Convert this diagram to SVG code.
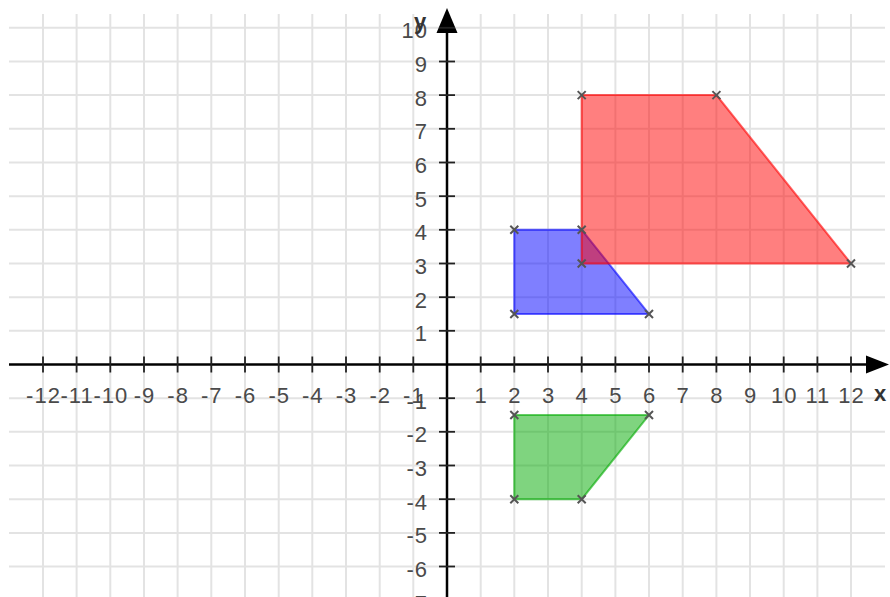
<svg xmlns="http://www.w3.org/2000/svg" xmlns:xlink="http://www.w3.org/1999/xlink" width="890" height="597" viewBox="0 0 890 597">
<style>
.grid line{stroke:#e3e3e3;stroke-width:2}
.axis{stroke:#000;stroke-width:2.5}
.tick{stroke:#222;stroke-width:1.8}
.lbl{font-family:"Liberation Sans",Arial,sans-serif;font-size:22px;letter-spacing:1px;fill:#4a4a4a}
.xl{text-anchor:middle}
.yl{text-anchor:end}
.axname{font-family:"Liberation Sans",Arial,sans-serif;font-size:22px;font-weight:bold;fill:#333}
.vx{stroke:#555;stroke-width:2;fill:none}
</style>
<defs>
<path id="vx" d="M-4,-4 L4,4 M-4,4 L4,-4"/>
</defs>
<rect width="890" height="597" fill="#fff"/>
<g id="grid" class="grid">
<line x1="9" y1="27.8" x2="885" y2="27.8"/>
<line x1="9" y1="61.5" x2="885" y2="61.5"/>
<line x1="9" y1="95.1" x2="885" y2="95.1"/>
<line x1="9" y1="128.8" x2="885" y2="128.8"/>
<line x1="9" y1="162.5" x2="885" y2="162.5"/>
<line x1="9" y1="196.2" x2="885" y2="196.2"/>
<line x1="9" y1="229.8" x2="885" y2="229.8"/>
<line x1="9" y1="263.5" x2="885" y2="263.5"/>
<line x1="9" y1="297.2" x2="885" y2="297.2"/>
<line x1="9" y1="330.8" x2="885" y2="330.8"/>
<line x1="9" y1="398.2" x2="885" y2="398.2"/>
<line x1="9" y1="431.8" x2="885" y2="431.8"/>
<line x1="9" y1="465.5" x2="885" y2="465.5"/>
<line x1="9" y1="499.2" x2="885" y2="499.2"/>
<line x1="9" y1="532.9" x2="885" y2="532.9"/>
<line x1="9" y1="566.5" x2="885" y2="566.5"/>
<line x1="43" y1="14" x2="43" y2="597"/>
<line x1="76.6" y1="14" x2="76.6" y2="597"/>
<line x1="110.3" y1="14" x2="110.3" y2="597"/>
<line x1="144" y1="14" x2="144" y2="597"/>
<line x1="177.6" y1="14" x2="177.6" y2="597"/>
<line x1="211.3" y1="14" x2="211.3" y2="597"/>
<line x1="245" y1="14" x2="245" y2="597"/>
<line x1="278.7" y1="14" x2="278.7" y2="597"/>
<line x1="312.3" y1="14" x2="312.3" y2="597"/>
<line x1="346" y1="14" x2="346" y2="597"/>
<line x1="379.7" y1="14" x2="379.7" y2="597"/>
<line x1="413.3" y1="14" x2="413.3" y2="597"/>
<line x1="480.7" y1="14" x2="480.7" y2="597"/>
<line x1="514.3" y1="14" x2="514.3" y2="597"/>
<line x1="548" y1="14" x2="548" y2="597"/>
<line x1="581.7" y1="14" x2="581.7" y2="597"/>
<line x1="615.4" y1="14" x2="615.4" y2="597"/>
<line x1="649" y1="14" x2="649" y2="597"/>
<line x1="682.7" y1="14" x2="682.7" y2="597"/>
<line x1="716.4" y1="14" x2="716.4" y2="597"/>
<line x1="750" y1="14" x2="750" y2="597"/>
<line x1="783.7" y1="14" x2="783.7" y2="597"/>
<line x1="817.4" y1="14" x2="817.4" y2="597"/>
<line x1="851" y1="14" x2="851" y2="597"/>
</g>
<g id="axes">
<line class="axis" x1="9" y1="364.5" x2="868" y2="364.5"/>
<polygon points="889,364.5 866,355.5 866,373.5" fill="#000"/>
<line class="axis" x1="447" y1="31" x2="447" y2="597"/>
<polygon points="447,8 436.5,33 457.5,33" fill="#000"/>
<g class="tick">
<line x1="43" y1="356.5" x2="43" y2="372.5"/>
<line x1="76.6" y1="356.5" x2="76.6" y2="372.5"/>
<line x1="110.3" y1="356.5" x2="110.3" y2="372.5"/>
<line x1="144" y1="356.5" x2="144" y2="372.5"/>
<line x1="177.6" y1="356.5" x2="177.6" y2="372.5"/>
<line x1="211.3" y1="356.5" x2="211.3" y2="372.5"/>
<line x1="245" y1="356.5" x2="245" y2="372.5"/>
<line x1="278.7" y1="356.5" x2="278.7" y2="372.5"/>
<line x1="312.3" y1="356.5" x2="312.3" y2="372.5"/>
<line x1="346" y1="356.5" x2="346" y2="372.5"/>
<line x1="379.7" y1="356.5" x2="379.7" y2="372.5"/>
<line x1="413.3" y1="356.5" x2="413.3" y2="372.5"/>
<line x1="480.7" y1="356.5" x2="480.7" y2="372.5"/>
<line x1="514.3" y1="356.5" x2="514.3" y2="372.5"/>
<line x1="548" y1="356.5" x2="548" y2="372.5"/>
<line x1="581.7" y1="356.5" x2="581.7" y2="372.5"/>
<line x1="615.4" y1="356.5" x2="615.4" y2="372.5"/>
<line x1="649" y1="356.5" x2="649" y2="372.5"/>
<line x1="682.7" y1="356.5" x2="682.7" y2="372.5"/>
<line x1="716.4" y1="356.5" x2="716.4" y2="372.5"/>
<line x1="750" y1="356.5" x2="750" y2="372.5"/>
<line x1="783.7" y1="356.5" x2="783.7" y2="372.5"/>
<line x1="817.4" y1="356.5" x2="817.4" y2="372.5"/>
<line x1="851" y1="356.5" x2="851" y2="372.5"/>
<line x1="439" y1="27.8" x2="455" y2="27.8"/>
<line x1="439" y1="61.5" x2="455" y2="61.5"/>
<line x1="439" y1="95.1" x2="455" y2="95.1"/>
<line x1="439" y1="128.8" x2="455" y2="128.8"/>
<line x1="439" y1="162.5" x2="455" y2="162.5"/>
<line x1="439" y1="196.2" x2="455" y2="196.2"/>
<line x1="439" y1="229.8" x2="455" y2="229.8"/>
<line x1="439" y1="263.5" x2="455" y2="263.5"/>
<line x1="439" y1="297.2" x2="455" y2="297.2"/>
<line x1="439" y1="330.8" x2="455" y2="330.8"/>
<line x1="439" y1="398.2" x2="455" y2="398.2"/>
<line x1="439" y1="431.8" x2="455" y2="431.8"/>
<line x1="439" y1="465.5" x2="455" y2="465.5"/>
<line x1="439" y1="499.2" x2="455" y2="499.2"/>
<line x1="439" y1="532.9" x2="455" y2="532.9"/>
<line x1="439" y1="566.5" x2="455" y2="566.5"/>
</g>
</g>
<g id="x-labels" class="lbl xl">
<text x="43.5" y="403">-12</text>
<text x="77.1" y="403">-11</text>
<text x="110.8" y="403">-10</text>
<text x="144.5" y="403">-9</text>
<text x="178.1" y="403">-8</text>
<text x="211.8" y="403">-7</text>
<text x="245.5" y="403">-6</text>
<text x="279.2" y="403">-5</text>
<text x="312.8" y="403">-4</text>
<text x="346.5" y="403">-3</text>
<text x="380.2" y="403">-2</text>
<text x="413.8" y="403">-1</text>
<text x="481.2" y="403">1</text>
<text x="514.8" y="403">2</text>
<text x="548.5" y="403">3</text>
<text x="582.2" y="403">4</text>
<text x="615.9" y="403">5</text>
<text x="649.5" y="403">6</text>
<text x="683.2" y="403">7</text>
<text x="716.9" y="403">8</text>
<text x="750.5" y="403">9</text>
<text x="784.2" y="403">10</text>
<text x="817.9" y="403">11</text>
<text x="851.5" y="403">12</text>
</g>
<g id="y-labels" class="lbl yl">
<text x="428" y="38.3">10</text>
<text x="428" y="72">9</text>
<text x="428" y="105.6">8</text>
<text x="428" y="139.3">7</text>
<text x="428" y="173">6</text>
<text x="428" y="206.7">5</text>
<text x="428" y="240.3">4</text>
<text x="428" y="274">3</text>
<text x="428" y="307.7">2</text>
<text x="428" y="341.3">1</text>
<text x="428" y="408.7">-1</text>
<text x="428" y="442.3">-2</text>
<text x="428" y="476">-3</text>
<text x="428" y="509.7">-4</text>
<text x="428" y="543.4">-5</text>
<text x="428" y="577">-6</text>
<text x="428" y="610.7">-7</text>
</g>
<g id="axis-names">
<text class="axname" x="414" y="29">y</text>
<text class="axname" x="874" y="401">x</text>
</g>
<g id="shape-blue">
<polygon points="514.3,229.8 581.7,229.8 649,314 514.3,314" fill="#0000ff" fill-opacity="0.5" stroke="#0000ff" stroke-opacity="0.6" stroke-width="2"/>
</g>
<g id="shape-red">
<polygon points="581.7,95.1 716.4,95.1 851,263.5 581.7,263.5" fill="#ff0000" fill-opacity="0.5" stroke="#ff0000" stroke-opacity="0.6" stroke-width="2"/>
</g>
<g id="shape-green">
<polygon points="514.3,415 649,415 581.7,499.2 514.3,499.2" fill="#00aa00" fill-opacity="0.5" stroke="#00aa00" stroke-opacity="0.6" stroke-width="2"/>
</g>
<g id="vertices" class="vx">
<use xlink:href="#vx" x="581.7" y="95.1"/>
<use xlink:href="#vx" x="716.4" y="95.1"/>
<use xlink:href="#vx" x="851" y="263.5"/>
<use xlink:href="#vx" x="581.7" y="263.5"/>
<use xlink:href="#vx" x="514.3" y="229.8"/>
<use xlink:href="#vx" x="581.7" y="229.8"/>
<use xlink:href="#vx" x="649" y="314"/>
<use xlink:href="#vx" x="514.3" y="314"/>
<use xlink:href="#vx" x="514.3" y="415"/>
<use xlink:href="#vx" x="649" y="415"/>
<use xlink:href="#vx" x="581.7" y="499.2"/>
<use xlink:href="#vx" x="514.3" y="499.2"/>
</g>
</svg>
